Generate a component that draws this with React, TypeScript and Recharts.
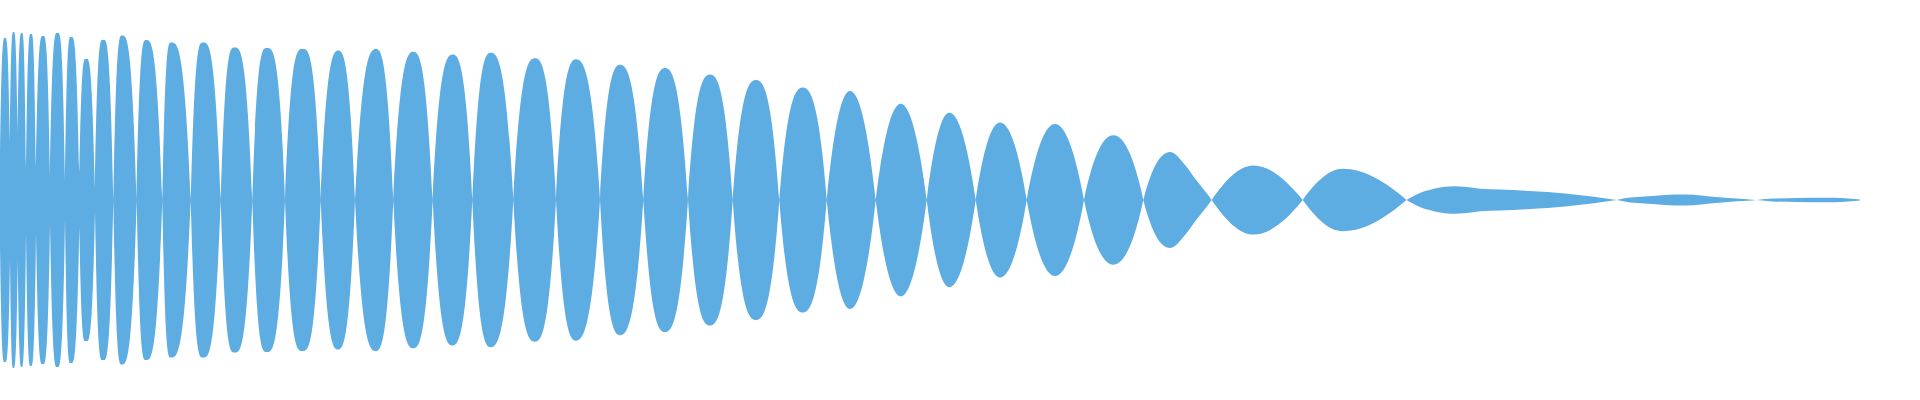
import React from "react";
import { AreaChart, Area, XAxis, YAxis } from "recharts";

// zero crossings of the envelope (x in chart px) and how thick the neck stays there
const CROSS_X = [
  0, 10, 17.7, 26, 36, 50, 65, 79.3, 95, 113.3, 136.7, 162.3, 190.7, 220.7, 252.3, 285, 320.7,
  355, 393.3, 432.7, 472.3, 513.3, 556, 600, 643.3, 688, 732.7, 779.3, 826.7, 875.7, 926.7,
  975.7, 1026.7, 1084, 1143.3, 1211.7, 1302.7, 1406.5, 1616.7, 1756.7,
];
const NECK_AMP = [45, 58, 59, 32, 33, 23, 19, 27, 11];

// one peak per lobe
const PEAK_X = [
  5, 13.5, 21.7, 31, 43, 57.5, 71, 86, 103, 122, 146, 171, 203, 234.5, 267, 302.7, 338.3,
  376, 413.3, 452.7, 490.7, 535, 576, 620, 665, 710, 756, 802.7, 850, 900.7, 949.3, 1000,
  1055, 1113.3, 1170, 1253.3, 1342.7, 1455, 1677, 1813,
];
const PEAK_AMP = [
  162, 168, 167, 166, 164, 167, 163, 141, 160, 164.5, 160, 157.5, 157.5, 152.5, 152, 151, 149.5,
  151, 148.3, 145.5, 147.2, 141.7, 140.7, 135.2, 132, 125.5, 120, 112.5, 109, 96.3, 87.2, 77.5,
  76, 64.7, 48, 34.6, 31.2, 13.8, 5.5, 2.3,
];
// height of each lobe halfway between neck and peak, as a share of its peak
const LOBE_FULLNESS = [
  0.9, 0.9, 0.9, 0.9, 0.9, 0.9, 0.9, 0.9, 0.9, 0.88, 0.88, 0.88, 0.88, 0.88, 0.88, 0.88, 0.85,
  0.85, 0.85, 0.85, 0.85, 0.85, 0.84, 0.84, 0.84, 0.84, 0.84, 0.83, 0.77, 0.76, 0.76, 0.76,
  0.76, 0.77, 0.77, 0.72, 0.72, 0.7, 0.7, 0.7,
];

// extra envelope samples where a lobe is not a plain arch
const SHOULDER_X = [1185, 1195, 1420, 1435, 1473, 1480, 1500, 1530, 1565, 1592, 1630, 1645, 1693, 1710, 1728, 1747, 1773, 1835, 1848];
const SHOULDER_AMP = [35, 21.5, 7, 11.5, 12.3, 11.3, 10.5, 9, 6.5, 3.5, 2.5, 3.5, 5.2, 3.6, 2, 0.8, 1.4, 2.2, 1.4];

const END_X = 1860;
const END_AMP = 0.5;

const COLOR = "#5dade2";

type Pt = { x: number; amp: number };

const buildEnvelope = (): Pt[] => {
  const pts: Pt[] = [];
  CROSS_X.forEach((x, i) => pts.push({ x, amp: NECK_AMP[i] ?? 0 }));
  PEAK_X.forEach((x, i) => pts.push({ x, amp: PEAK_AMP[i] }));
  SHOULDER_X.forEach((x, i) => pts.push({ x, amp: SHOULDER_AMP[i] }));
  pts.push({ x: END_X, amp: END_AMP });
  return pts.sort((a, b) => a.x - b.x);
};

const data = buildEnvelope();

// draws one edge of the envelope: round at the peaks, pinched at the necks
// out = -1 for the upper edge (peaks have the smallest y), +1 for the lower edge
function drawEdge(ctx: any, pts: number[][], out: number, cont: boolean, fullness: number[]) {
  const n = pts.length;
  if (!n) return;
  if (cont) ctx.lineTo(pts[0][0], pts[0][1]);
  else ctx.moveTo(pts[0][0], pts[0][1]);
  if (n === 1) return;

  const v = pts.map((p) => p[1] * out);
  const kind = v.map((vi, i) => {
    if (i === 0 || i === n - 1) return "end";
    if (vi >= v[i - 1] && vi >= v[i + 1]) return "peak";
    if (vi <= v[i - 1] && vi <= v[i + 1]) return "neck";
    return "mid";
  });
  const sec: number[] = [];
  for (let i = 0; i < n - 1; i++) {
    const h = pts[i + 1][0] - pts[i][0];
    sec.push(h === 0 ? 0 : (pts[i + 1][1] - pts[i][1]) / h);
  }
  const midSlope = (i: number) => {
    const s0 = sec[i - 1];
    const s1 = sec[i];
    if (s0 * s1 <= 0) return 0;
    const h0 = Math.abs(pts[i][0] - pts[i - 1][0]);
    const h1 = Math.abs(pts[i + 1][0] - pts[i][0]);
    const p = (s0 * h1 + s1 * h0) / (h0 + h1);
    return (Math.sign(s0) + Math.sign(s1)) * Math.min(Math.abs(s0), Math.abs(s1), 0.5 * Math.abs(p));
  };
  // lobe numbering runs backwards on the reversed (lower) edge
  const reversed = pts[n - 1][0] < pts[0][0];
  const necks = kind.filter((k) => k === "neck").length;
  let lobe = reversed ? necks : 0;

  const slopeAt = (i: number, seg: number, other: number) => {
    if (kind[i] === "peak") return 0;
    if (kind[i] === "mid") return midSlope(i);
    if (kind[other] !== "peak") return sec[seg] * 1.1;
    const f = fullness[lobe] ?? 0.7;
    const k = Math.max(1, Math.min(3.2, (f - 0.5) / 0.125));
    return sec[seg] * k;
  };

  for (let i = 0; i < n - 1; i++) {
    if (i > 0 && kind[i] === "neck") lobe += reversed ? -1 : 1;
    const [xa, ya] = pts[i];
    const [xb, yb] = pts[i + 1];
    const h = (xb - xa) / 3;
    const ma = slopeAt(i, i, i + 1);
    const mb = slopeAt(i + 1, i, i);
    ctx.bezierCurveTo(xa + h, ya + ma * h, xb - h, yb - mb * h, xb, yb);
  }
}

const meanY = (pts: number[][]) => pts.reduce((s, p) => s + p[1], 0) / Math.max(1, pts.length);

// curve factory handed to <Area type=...>; both edges are buffered and drawn at areaEnd
const makeLobeCurve = (fullness: number[]) => (context: any) => {
  let inArea = false;
  let pts: number[][] = [];
  let edges: number[][][] = [];
  return {
    areaStart() {
      inArea = true;
      edges = [];
    },
    areaEnd() {
      inArea = false;
      const [a, b] = edges;
      if (!a) return;
      if (!b) {
        drawEdge(context, a, -1, false, fullness);
        return;
      }
      const aIsTop = meanY(a) <= meanY(b);
      drawEdge(context, a, aIsTop ? -1 : 1, false, fullness);
      drawEdge(context, b, aIsTop ? 1 : -1, true, fullness);
      context.closePath();
    },
    lineStart() {
      pts = [];
    },
    lineEnd() {
      if (inArea) edges.push(pts);
      else drawEdge(context, pts, -1, false, fullness);
    },
    point(x: number, y: number) {
      pts.push([+x, +y]);
    },
  };
};

const lobeCurve = makeLobeCurve(LOBE_FULLNESS);

export default function App() {
  return (
    <div style={{ position: "absolute", left: 0, top: 0, width: 1920, height: 400, background: "#fff" }}>
      <AreaChart width={1920} height={400} data={data} margin={{ top: 0, right: 0, bottom: 0, left: 0 }}>
        <XAxis type="number" dataKey="x" domain={[0, 1920]} allowDataOverflow hide />
        <YAxis type="number" domain={[-200, 200]} allowDataOverflow hide />
        <Area
          type={lobeCurve as any}
          dataKey={(d: Pt) => [-d.amp, d.amp]}
          stroke="none"
          fill={COLOR}
          fillOpacity={1}
          dot={false}
          activeDot={false}
          isAnimationActive={false}
        />
      </AreaChart>
    </div>
  );
}
